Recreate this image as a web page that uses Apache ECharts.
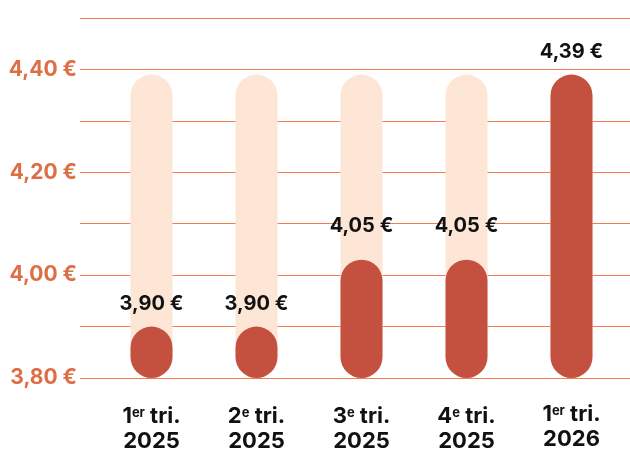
<!DOCTYPE html>
<html>
<head>
<meta charset="utf-8">
<script src="https://cdn.jsdelivr.net/npm/echarts@6/dist/echarts.min.js"></script>
<style>html,body{margin:0;padding:0;background:#fff}#c{width:630px;height:449px}</style>
</head>
<body>
<div id="c"></div>
<script>
// Categories (quarter, superscript, year)
const quarterNum = ['1', '2', '3', '4', '1'];
const quarterSup = ['er', 'e', 'e', 'e', 'er'];
const quarterYear = ['2025', '2025', '2025', '2025', '2026'];
// Drawn bar heights
const barValues = [3.90, 3.90, 4.03, 4.03, 4.39];
// Printed prices
const priceValues = [3.90, 3.90, 4.05, 4.05, 4.39];
// Background track height
const trackValues = [4.39, 4.39, 4.39, 4.39, 4.39];
// Y-axis
const yMin = 3.80, yMax = 4.50, yStep = 0.10;
const yTickLabels = { '3.80': '3,80 €', '4.00': '4,00 €', '4.20': '4,20 €', '4.40': '4,40 €' };

const fmtPrice = v => v.toFixed(2).replace('.', ',') + ' €';
const FONT = 'Inter';

const categories = quarterNum.map((n, i) => {
  const item = { value: n + '|' + quarterSup[i] + '|' + quarterYear[i] };
  if (i < 4) item.textStyle = { padding: [2, 0, 0, 0] };
  return item;
});

const chart = echarts.init(document.getElementById('c'), null, { renderer: 'canvas' });
chart.setOption({
  animation: false,
  backgroundColor: '#ffffff',
  grid: [
    { left: 80, right: 0, top: 18, bottom: 71, containLabel: false, outerBoundsMode: 'none' },
    { left: 99, right: 6, top: 18, bottom: 71, containLabel: false, outerBoundsMode: 'none' }
  ],
  xAxis: [
    { gridIndex: 0, type: 'value', show: false, min: 0, max: 1 },
    {
      gridIndex: 1, type: 'category', data: categories,
      axisLine: { show: false }, axisTick: { show: false },
      axisLabel: {
        margin: 24, interval: 0,
        formatter: v => {
          const p = v.split('|');
          return '{m|' + p[0] + '}{s|' + p[1] + '}{m| tri.}\n{m|' + p[2] + '}';
        },
        rich: {
          m: { fontFamily: FONT, fontWeight: 700, fontSize: 22, color: '#111111', lineHeight: 25 },
          s: { fontFamily: FONT, fontWeight: 700, fontSize: 13, color: '#111111', lineHeight: 25, verticalAlign: 'top', padding: [3, 0, 0, 0] }
        }
      }
    }
  ],
  yAxis: [
    {
      gridIndex: 0, type: 'value', min: yMin, max: yMax, interval: yStep,
      axisLine: { show: false }, axisTick: { show: false },
      splitLine: { show: true, lineStyle: { color: '#f07c50', width: 1 } },
      axisLabel: {
        margin: 3, fontFamily: FONT, fontWeight: 700, fontSize: 21, color: '#de6e45',
        formatter: v => yTickLabels[v.toFixed(2)] || ''
      }
    },
    { gridIndex: 1, type: 'value', min: yMin, max: yMax, interval: yStep, show: false, splitLine: { show: false } }
  ],
  series: [
    {
      type: 'bar', xAxisIndex: 1, yAxisIndex: 1, data: trackValues,
      barWidth: 42, barGap: '-100%', silent: true,
      itemStyle: { color: '#fee6d6', borderRadius: 21 }
    },
    {
      type: 'bar', xAxisIndex: 1, yAxisIndex: 1, data: barValues,
      barWidth: 42, barGap: '-100%', silent: true,
      itemStyle: { color: '#c45040', borderRadius: 21 }
    },
    {
      type: 'bar', xAxisIndex: 1, yAxisIndex: 1, data: priceValues,
      barWidth: 42, barGap: '-100%', silent: true,
      itemStyle: { color: 'rgba(0,0,0,0)' },
      label: {
        show: true, position: 'top', distance: 13,
        fontFamily: FONT, fontWeight: 700, fontSize: 20, color: '#111111',
        formatter: p => fmtPrice(p.value)
      }
    }
  ]
});
</script>
</body>
</html>
